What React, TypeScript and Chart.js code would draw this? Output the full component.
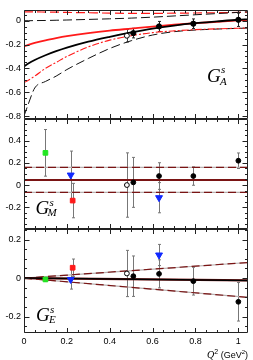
import React, { useEffect, useRef } from "react";
import { Chart, registerables } from "chart.js";

Chart.register(...registerables);

// ---------------- data ----------------
const X_MIN = 0;
const X_MAX = 1.045;
const xTicks = [0, 0.2, 0.4, 0.6, 0.8, 1];
const xTickLabels = ["0", "0.2", "0.4", "0.6", "0.8", "1"];

const yTicksA = [-0.8, -0.6, -0.4, -0.2, 0];
const yTickLabelsA = ["-0.8", "-0.6", "-0.4", "-0.2", "0"];
const yTicksM = [-0.2, 0, 0.2, 0.4];
const yTickLabelsM = ["-0.2", "0", "0.2", "0.4"];
const yTicksE = [-0.2, 0, 0.2];
const yTickLabelsE = ["-0.2", "0", "0.2"];

// theory curves for G_A^s
const curveQ2 = [0, 0.02, 0.05, 0.1, 0.15, 0.2, 0.3, 0.4, 0.5, 0.6, 0.7, 0.8, 0.9, 1.0, 1.045];
const gaRedDashedUpper = [0.075, 0.075, 0.074, 0.073, 0.072, 0.07, 0.067, 0.064, 0.062, 0.062, 0.063, 0.065, 0.067, 0.07, 0.072];
const gaBlackDashedUpper = [0, 0, 0.001, 0.002, 0.004, 0.006, 0.011, 0.016, 0.022, 0.03, 0.04, 0.05, 0.06, 0.07, 0.075];
const gaRedSolid = [-0.215, -0.202, -0.186, -0.164, -0.146, -0.13, -0.104, -0.083, -0.066, -0.049, -0.034, -0.021, -0.009, 0.003, 0.007];
const gaBlackSolid = [-0.385, -0.36, -0.33, -0.29, -0.256, -0.226, -0.176, -0.135, -0.098, -0.066, -0.041, -0.021, -0.006, 0.008, 0.012];
const gaRedDashDotLower = [-0.52, -0.5, -0.465, -0.4, -0.35, -0.3, -0.22, -0.163, -0.126, -0.1, -0.085, -0.075, -0.068, -0.063, -0.062];
const gaBlackDashedLower = [-0.8, -0.7, -0.565, -0.51, -0.465, -0.41, -0.317, -0.233, -0.168, -0.12, -0.092, -0.078, -0.07, -0.064, -0.062];

// theory lines for G_M^s and G_E^s
const lineQ2 = [0, 1.045];
const gmCentral = [0.045, 0.045];
const gmUpper = [0.159, 0.159];
const gmLower = [-0.066, -0.066];
const geCentral = [0, -0.012];
const geUpper = [0, 0.081];
const geLower = [0, -0.1];

// measurements
const blackQ2 = [0.51, 0.63, 0.79, 1.0];
const openQ2 = [0.48];
const greenQ2 = [0.1];
const redQ2 = [0.227];
const blueQ2 = [0.218, 0.63];

const gaBlack = [-0.104, -0.048, -0.025, 0.008];
const gaBlackErr = [0.04, 0.042, 0.04, 0.056];
const gaOpen = [-0.126];
const gaOpenErr = [0.053];

const gmBlack = [0.024, 0.081, 0.081, 0.219];
const gmBlackErr = [0.225, 0.12, 0.083, 0.07];
const gmOpen = [0.0];
const gmOpenErr = [0.29];
const gmGreen = [0.29];
const gmGreenErr = [0.21];
const gmRed = [-0.14];
const gmRedErr = [0.155];
const gmBlue = [0.09, -0.114];
const gmBlueErr = [0.216, 0.136];

const geBlack = [0.01, 0.022, -0.016, -0.123];
const geBlackErr = [0.105, 0.073, 0.072, 0.1];
const geOpen = [0.024];
const geOpenErr = [0.12];
const geGreen = [-0.007];
const geGreenErr = [0.01];
const geRed = [0.054];
const geRedErr = [0.045];
const geBlue = [-0.007, 0.12];
const geBlueErr = [0.05, 0.055];

// ---------------- helpers ----------------
const SANS = '"Liberation Sans", Arial, Helvetica, sans-serif';
const SERIF = '"Liberation Serif", "Times New Roman", serif';

const pts = (xs: number[], ys: number[]) => xs.map((x, i) => ({ x, y: ys[i] }));

const curve = (xs: number[], ys: number[], color: string, width: number, dash: number[] = [], tension = 0.4) => ({
  data: pts(xs, ys),
  showLine: true,
  borderColor: color,
  borderWidth: width,
  borderDash: dash,
  pointRadius: 0,
  tension,
  cubicInterpolationMode: "monotone",
  fill: false,
});

const markers = (xs: number[], ys: number[], errs: number[], style: string, fill: string, stroke: string, radius: number, errColor: string, rotation = 0) => ({
  data: pts(xs, ys),
  showLine: false,
  pointStyle: style,
  pointRadius: radius,
  pointRotation: rotation,
  pointBackgroundColor: fill,
  pointBorderColor: stroke,
  pointBorderWidth: 1,
  errors: errs,
  errorColor: errColor,
});

const errorBarPlugin = {
  id: "errorBars",
  beforeDatasetsDraw(chart: any) {
    const { ctx } = chart;
    const x = chart.scales.x;
    const y = chart.scales.y;
    ctx.save();
    chart.data.datasets.forEach((ds: any) => {
      if (!ds.errors) return;
      ctx.strokeStyle = ds.errorColor;
      ctx.lineWidth = 1;
      ds.data.forEach((p: any, i: number) => {
        const e = ds.errors[i];
        const px = Math.round(x.getPixelForValue(p.x)) + 0.5;
        const y1 = y.getPixelForValue(p.y + e);
        const y2 = y.getPixelForValue(p.y - e);
        ctx.beginPath();
        ctx.moveTo(px, y1);
        ctx.lineTo(px, y2);
        ctx.moveTo(px - 1.5, y1);
        ctx.lineTo(px + 1.5, y1);
        ctx.moveTo(px - 1.5, y2);
        ctx.lineTo(px + 1.5, y2);
        ctx.stroke();
      });
    });
    ctx.restore();
  },
};

function drawFrame(chart: any) {
  const { ctx, chartArea: a } = chart;
  const x = chart.scales.x;
  const y = chart.scales.y;
  const L = Math.round(a.left) + 0.5;
  const R = Math.round(a.right) - 0.5;
  const T = Math.round(a.top) + 0.5;
  const B = Math.round(a.bottom) - 0.5;
  ctx.save();
  ctx.setLineDash([]);
  ctx.strokeStyle = "#222";
  ctx.lineWidth = 1;
  ctx.beginPath();
  ctx.moveTo(L, T);
  ctx.lineTo(R, T);
  ctx.lineTo(R, B);
  ctx.lineTo(L, B);
  ctx.closePath();
  const y0 = Math.ceil(y.min / 0.05 - 1e-6);
  const y1 = Math.floor(y.max / 0.05 + 1e-6);
  for (let k = y0; k <= y1; k++) {
    const major = k % 4 === 0;
    const len = major ? 5 : 2.5;
    const py = Math.round(y.getPixelForValue(k * 0.05)) + 0.5;
    ctx.moveTo(L, py);
    ctx.lineTo(L + len, py);
    ctx.moveTo(R, py);
    ctx.lineTo(R - len, py);
  }
  const x1 = Math.floor(x.max / 0.05 + 1e-6);
  for (let k = 0; k <= x1; k++) {
    const major = k % 4 === 0;
    const len = major ? 4.5 : 2.5;
    const px = Math.round(x.getPixelForValue(k * 0.05)) + 0.5;
    ctx.moveTo(px, T);
    ctx.lineTo(px, T + len);
    ctx.moveTo(px, B);
    ctx.lineTo(px, B - len);
  }
  ctx.stroke();
  ctx.restore();
}

const labelPlugin = {
  id: "panelLabel",
  afterDraw(chart: any, _args: any, o: any) {
    drawFrame(chart);
    if (!o || !o.main) return;
    const ctx = chart.ctx;
    ctx.save();
    ctx.fillStyle = "#000";
    ctx.textBaseline = "alphabetic";
    ctx.textAlign = "left";
    ctx.font = `italic 19px ${SERIF}`;
    ctx.fillText(o.main, o.x, o.y);
    ctx.font = `italic 11px ${SERIF}`;
    ctx.fillText(o.sup, o.supX, o.supY);
    ctx.fillText(o.sub, o.subX, o.subY);
    if (o.axisTitle) {
      const parts = [
        { t: "Q", f: `italic 10px ${SERIF}`, dy: 0 },
        { t: "2", f: `7px ${SANS}`, dy: -4 },
        { t: " (GeV", f: `9px ${SANS}`, dy: 0 },
        { t: "2", f: `6px ${SANS}`, dy: -4 },
        { t: ")", f: `9px ${SANS}`, dy: 0 },
      ];
      let w = 0;
      parts.forEach((p) => {
        ctx.font = p.f;
        w += ctx.measureText(p.t).width;
      });
      let cx = chart.chartArea.right - w;
      parts.forEach((p) => {
        ctx.font = p.f;
        ctx.fillText(p.t, cx, o.axisY + p.dy);
        cx += ctx.measureText(p.t).width;
      });
    }
    ctx.restore();
  },
};

const tickFont = { family: SANS, size: 9 };

function makeConfig(datasets: any[], yMin: number, yMax: number, yTicks: number[], yLabels: string[], showX: boolean, padding: any, label: any) {
  return {
    type: "scatter",
    data: { datasets },
    plugins: [errorBarPlugin, labelPlugin],
    options: {
      animation: false,
      responsive: false,
      maintainAspectRatio: false,
      devicePixelRatio: 1,
      events: [],
      layout: { padding },
      plugins: { legend: { display: false }, tooltip: { enabled: false }, panelLabel: label },
      scales: {
        x: {
          type: "linear",
          min: X_MIN,
          max: X_MAX,
          display: showX,
          grid: { display: false, drawTicks: false, tickLength: 0 },
          border: { display: false },
          afterFit: (s: any) => {
            s.height = showX ? 26 : 0;
          },
          afterBuildTicks: (s: any) => {
            s.ticks = xTicks.map((v) => ({ value: v }));
          },
          ticks: {
            padding: 3,
            font: tickFont,
            color: "#000",
            maxRotation: 0,
            autoSkip: false,
            callback: (_v: any, i: number) => xTickLabels[i],
          },
        },
        y: {
          type: "linear",
          min: yMin,
          max: yMax,
          grid: { display: false, drawTicks: false, tickLength: 0 },
          border: { display: false },
          afterFit: (s: any) => {
            s.width = 24;
          },
          afterBuildTicks: (s: any) => {
            s.ticks = yTicks.map((v) => ({ value: v }));
          },
          ticks: {
            padding: 3,
            font: tickFont,
            color: "#000",
            autoSkip: false,
            callback: (_v: any, i: number) => yLabels[i],
          },
        },
      },
    },
  };
}

const RED = "#ff1a1a";
const MAROON = "#7a1414";
const GREYLINE = "#b8b0b0";

function datasetsA() {
  return [
    markers(blackQ2, gaBlack, gaBlackErr, "circle", "#000", "#000", 2.6, "#222"),
    markers(openQ2, gaOpen, gaOpenErr, "circle", "#fff", "#000", 2.5, "#444"),
    curve(curveQ2, gaBlackSolid, "#000", 1.8),
    curve(curveQ2, gaRedSolid, RED, 1.8),
    curve(curveQ2, gaRedDashDotLower, RED, 1.1, [7, 2, 2, 2]),
    curve(curveQ2, gaBlackDashedLower, "#111", 1.0, [9, 4]),
    curve(curveQ2, gaBlackDashedUpper, "#111", 1.0, [9, 4]),
    curve(curveQ2, gaRedDashedUpper, RED, 1.2, [9, 4]),
  ];
}

function datasetsM() {
  return [
    markers(blackQ2, gmBlack, gmBlackErr, "circle", "#000", "#000", 2.4, "#777"),
    markers(openQ2, gmOpen, gmOpenErr, "circle", "#fff", "#000", 2.4, "#777"),
    markers(greenQ2, gmGreen, gmGreenErr, "rect", "#22e622", "#22e622", 3.3, "#777"),
    markers(redQ2, gmRed, gmRedErr, "rect", "#ff1a1a", "#ff1a1a", 3.3, "#777"),
    markers(blueQ2, gmBlue, gmBlueErr, "triangle", "#1028ff", "#1028ff", 4, "#777", 180),
    curve(lineQ2, gmCentral, MAROON, 2, [], 0),
    curve(lineQ2, gmUpper, MAROON, 1.4, [8, 4], 0),
    curve(lineQ2, gmLower, MAROON, 1.4, [8, 4], 0),
    curve(lineQ2, gmUpper, GREYLINE, 1.4, [], 0),
    curve(lineQ2, gmLower, GREYLINE, 1.4, [], 0),
  ];
}

function datasetsE() {
  return [
    markers(blackQ2, geBlack, geBlackErr, "circle", "#000", "#000", 2.4, "#777"),
    markers(openQ2, geOpen, geOpenErr, "circle", "#fff", "#000", 2.4, "#777"),
    markers(greenQ2, geGreen, geGreenErr, "rect", "#22e622", "#22e622", 3.3, "#777"),
    markers(redQ2, geRed, geRedErr, "rect", "#ff1a1a", "#ff1a1a", 3.3, "#777"),
    markers(blueQ2, geBlue, geBlueErr, "triangle", "#1028ff", "#1028ff", 4, "#777", 180),
    curve(lineQ2, geCentral, "#000", 1.5, [], 0),
    curve(lineQ2, geCentral, MAROON, 2.2, [], 0),
    curve(lineQ2, geUpper, MAROON, 1.2, [8, 4], 0),
    curve(lineQ2, geLower, MAROON, 1.2, [8, 4], 0),
    curve(lineQ2, geUpper, GREYLINE, 1.2, [], 0),
    curve(lineQ2, geLower, GREYLINE, 1.2, [], 0),
  ];
}

export default function App() {
  const r1 = useRef<HTMLCanvasElement | null>(null);
  const r2 = useRef<HTMLCanvasElement | null>(null);
  const r3 = useRef<HTMLCanvasElement | null>(null);

  useEffect(() => {
    const charts: Chart[] = [];
    charts.push(
      new Chart(
        r1.current as HTMLCanvasElement,
        makeConfig(datasetsA(), -0.825, 0.09, yTicksA, yTickLabelsA, false, { top: 10, bottom: 11, left: 0, right: 4 }, {
          main: "G", x: 207, y: 82, sup: "s", supX: 221, supY: 73, sub: "A", subX: 220, subY: 85,
        }) as any
      )
    );
    charts.push(
      new Chart(
        r2.current as HTMLCanvasElement,
        makeConfig(datasetsM(), -0.396, 0.595, yTicksM, yTickLabelsM, false, { top: 10, bottom: 10, left: 0, right: 4 }, {
          main: "G", x: 35.5, y: 105, sup: "s", supX: 49.5, supY: 97, sub: "M", subX: 47.5, subY: 107,
        }) as any
      )
    );
    charts.push(
      new Chart(
        r3.current as HTMLCanvasElement,
        makeConfig(datasetsE(), -0.285, 0.255, yTicksE, yTickLabelsE, true, { top: 10, bottom: 1, left: 0, right: 4 }, {
          main: "G", x: 36, y: 102, sup: "s", supX: 50, supY: 94, sub: "E", subX: 49, subY: 104, axisTitle: true, axisY: 139,
        }) as any
      )
    );
    return () => charts.forEach((c) => c.destroy());
  }, []);

  const cs = (top: number, h: number): React.CSSProperties => ({
    position: "absolute",
    left: 0,
    top,
    width: 253,
    height: h,
  });

  return (
    <div style={{ position: "fixed", left: 0, top: 0, width: 253, height: 360, background: "#fff", overflow: "hidden" }}>
      <canvas ref={r1} width={253} height={130} style={cs(0, 130)} />
      <canvas ref={r2} width={253} height={130} style={cs(109, 130)} />
      <canvas ref={r3} width={253} height={141} style={cs(219, 141)} />
    </div>
  );
}
